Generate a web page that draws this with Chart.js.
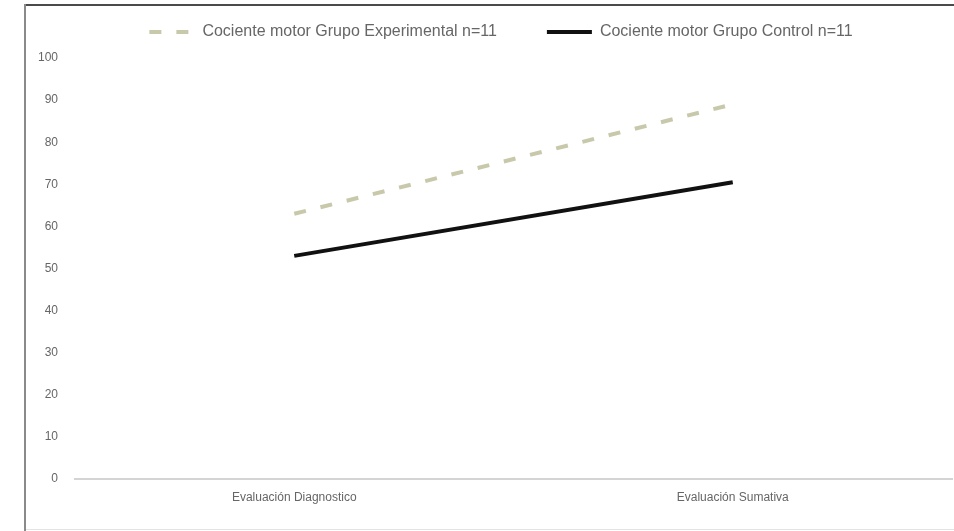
<!DOCTYPE html>
<html>
<head>
<meta charset="utf-8">
<script src="https://cdn.jsdelivr.net/npm/chart.js@4/dist/chart.umd.min.js"></script>
<style>
  html, body { margin: 0; padding: 0; background: #fff; }
  #wrap { width: 954px; height: 531px; position: relative; }
</style>
</head>
<body>
<div id="wrap"><canvas id="c" width="954" height="531"></canvas></div>
<script>
// Categories and series
const categories = ['Evaluación Diagnostico', 'Evaluación Sumativa'];
const experimental = [63, 89];
const control = [53, 70.5];
const seriesNames = ['Cociente motor Grupo Experimental n=11', 'Cociente motor Grupo Control n=11'];
const yTicks = [0, 10, 20, 30, 40, 50, 60, 70, 80, 90, 100];

const FONT = '"Liberation Sans", Arial, sans-serif';

// Outer frame of the figure (left and top rules, faint bottom rule)
const framePlugin = {
  id: 'frame',
  beforeDraw(chart) {
    const ctx = chart.ctx;
    ctx.save();
    ctx.fillStyle = '#fff';
    ctx.fillRect(0, 0, chart.width, chart.height);
    ctx.strokeStyle = '#4a4a4a';
    ctx.lineWidth = 2;
    ctx.beginPath();
    ctx.moveTo(24, 5);
    ctx.lineTo(chart.width, 5);
    ctx.stroke();
    ctx.strokeStyle = '#8a8a8a';
    ctx.beginPath();
    ctx.moveTo(25, 4);
    ctx.lineTo(25, chart.height);
    ctx.stroke();
    ctx.strokeStyle = '#e4e4e4';
    ctx.lineWidth = 1;
    ctx.beginPath();
    ctx.moveTo(26, 529.5);
    ctx.lineTo(chart.width, 529.5);
    ctx.stroke();
    ctx.restore();
  }
};

const chart = new Chart(document.getElementById('c'), {
  type: 'line',
  data: {
    labels: categories,
    datasets: [
      {
        label: seriesNames[0],
        data: experimental,
        borderColor: '#c8c8aa',
        borderWidth: 4,
        borderDash: [12, 15],
        pointRadius: 0,
        fill: false,
        tension: 0
      },
      {
        label: seriesNames[1],
        data: control,
        borderColor: '#111',
        borderWidth: 4,
        pointRadius: 0,
        fill: false,
        tension: 0
      }
    ]
  },
  options: {
    responsive: false,
    animation: false,
    layout: { padding: { left: 34, right: 0, top: -26, bottom: 0 } },
    plugins: {
      legend: {
        position: 'top',
        labels: {
          usePointStyle: true,
          pointStyle: 'line',
          pointStyleWidth: 45,
          padding: 50,
          color: '#666',
          font: { family: FONT, size: 16 },
          generateLabels(chart) {
            const items = Chart.defaults.plugins.legend.labels.generateLabels(chart);
            items.forEach(item => {
              const ds = chart.data.datasets[item.datasetIndex];
              item.lineDash = ds.borderDash || [];
              item.lineWidth = ds.borderWidth;
              item.strokeStyle = ds.borderColor;
            });
            return items;
          }
        }
      },
      tooltip: { enabled: false }
    },
    scales: {
      x: {
        offset: true,
        grid: { display: false, drawTicks: false },
        border: { display: true, color: '#d4d4d4', width: 2 },
        ticks: { color: '#666', font: { family: FONT, size: 12 }, padding: 11 },
        afterFit(scale) { scale.height = 52; }
      },
      y: {
        min: 0,
        max: 100,
        afterBuildTicks(scale) { scale.ticks = yTicks.map(v => ({ value: v })); },
        grid: { display: false, drawTicks: false },
        border: { display: false },
        ticks: { color: '#666', font: { family: FONT, size: 12 }, padding: 17 },
        afterFit(scale) { scale.width = 41; }
      }
    }
  },
  plugins: [framePlugin]
});

// Keep the legend band compact while its items stay widely spaced,
// and nudge the legend row slightly right of the canvas centre
const legendBox = chart.legend;
const baseFit = legendBox.fit;
legendBox.fit = function () {
  baseFit.call(this);
  this.height = 84;
};
const baseDraw = legendBox.draw;
legendBox.draw = function () {
  const ctx = this.ctx;
  ctx.save();
  ctx.translate(7, 0);
  baseDraw.call(this);
  ctx.restore();
};
chart.update();
</script>
</body>
</html>
